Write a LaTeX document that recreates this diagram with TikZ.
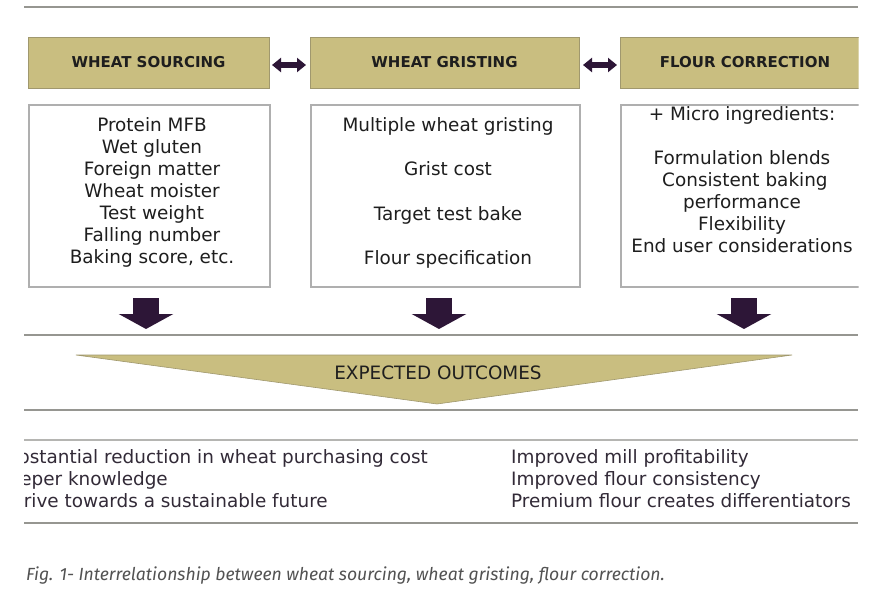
\documentclass[tikz,border=0pt]{standalone}
\usepackage{fontspec}
\setmainfont{DejaVu Sans}
\newfontfamily\capfont{Fira Sans}
\usetikzlibrary{arrows.meta}
\definecolor{khaki}{RGB}{201,190,128}
\definecolor{khakiedge}{RGB}{160,152,110}
\definecolor{boxedge}{RGB}{175,175,175}
\definecolor{rulegray}{RGB}{150,150,145}
\definecolor{arrowpurple}{RGB}{45,22,55}
\definecolor{txt}{RGB}{30,30,30}
\definecolor{outtxt}{RGB}{50,42,55}
\tikzset{
  x=1pt, y=-1pt,
  header/.style={draw=khakiedge, fill=khaki, line width=1pt, minimum height=51pt, inner sep=0pt,
    font=\fontsize{15}{18}\selectfont\bfseries, text=txt},
  content/.style={draw=boxedge, line width=1.5pt, minimum height=182pt, inner sep=0pt, anchor=north west},
  lines/.style={font=\fontsize{18.4}{22}\selectfont, text=txt, align=center, inner sep=0pt},
  outtext/.style={font=\fontsize{18.4}{22}\selectfont, text=outtxt, align=left, inner sep=0pt},
  rule/.style={draw=rulegray, line width=1.5pt},
  dbl/.style={line width=6pt, draw=arrowpurple, {Triangle[length=9pt,width=14pt]}-{Triangle[length=9pt,width=14pt]}},
  down/.style={line width=26pt, draw=arrowpurple, -{Triangle[length=15pt,width=54pt]}}
}
\begin{document}
\begin{tikzpicture}
\useasboundingbox (0,0) rectangle (879,597);
\fill[white] (0,0) rectangle (879,597);
\begin{scope}
\clip (0,0) rectangle (858.5,597);
% top rule
\draw[rule] (24,7) -- (858,7);
% headers
\node[header, minimum width=241pt] (ws) at (148.5,62.5) {WHEAT SOURCING};
\node[header, minimum width=269pt] (wg) at (444.5,62.5) {WHEAT GRISTING};
\node[header, minimum width=250pt] (fc) at (745,62.5) {FLOUR CORRECTION};
% double arrows
\draw[dbl] (272,65) coordinate (a1) -- (306,65) coordinate (a2);
\draw[dbl] (583,65) coordinate (b1) -- (617,65) coordinate (b2);
% content boxes
\node[content, minimum width=241pt] (cs) at (28,104) {};
\node[content, minimum width=269pt] (cg) at (310,104) {};
\node[content, minimum width=250pt] (cf) at (620,104) {};
\end{scope}
% content texts
\node[lines, anchor=north] (ts) at (152,117.5) {Protein MFB\\Wet gluten\\Foreign matter\\Wheat moister\\Test weight\\Falling number\\Baking score, etc.};
\node[lines, anchor=north, font=\fontsize{18.4}{44.3}\selectfont] (tg) at (448,117.5) {Multiple wheat gristing\\Grist cost\\Target test bake\\Flour specification};
\node[lines, anchor=north] (tf) at (742,106) {+ Micro ingredients:\\[22pt]Formulation blends\\\ Consistent baking\\performance\\Flexibility\\End user considerations};
% down arrows
\coordinate (d1s) at (146,298); \coordinate (d1e) at (146,329);
\coordinate (d2s) at (439,298); \coordinate (d2e) at (439,329);
\coordinate (d3s) at (744,298); \coordinate (d3e) at (744,329);
\draw[down] (d1s) -- (d1e);
\draw[down] (d2s) -- (d2e);
\draw[down] (d3s) -- (d3e);
% rules
\draw[rule] (24,335) -- (858,335);
\draw[rule] (24,410) -- (858,410);
\draw[rule, draw=rulegray!70] (24,440) -- (858,440);
\draw[rule] (24,523) -- (858,523);
% expected outcomes triangle
\coordinate (tl) at (76,355);
\coordinate (tr) at (792,355);
\coordinate (tb) at (437,404);
\fill[khaki] (tl) -- (tr) -- (tb) -- cycle;
\draw[khakiedge, line width=0.6pt] (tl) -- (tr) -- (tb) -- cycle;
\node[font=\fontsize{18.4}{22}\selectfont, text=txt, inner sep=0pt] (eo) at (438,373) {EXPECTED OUTCOMES};
% outcomes (left column is cut at the frame edge, as in the reference)
\begin{scope}
\clip (24,430) rectangle (858,520);
\node[outtext, anchor=base east] (ol1) at (428,463) {Substantial reduction in wheat purchasing cost};
\node[outtext, anchor=base west] (ol2) at ([yshift=-22pt]ol1.base west) {Deeper knowledge};
\node[outtext, anchor=base west] (ol3) at (9.5,507) {Drive towards a sustainable future};
\end{scope}
\node[outtext, anchor=base west] (or1) at (511,463) {Improved mill profitability};
\node[outtext, anchor=base west] (or2) at (511,485) {Improved flour consistency};
\node[outtext, anchor=base west] (or3) at (511,507) {Premium flour creates differentiators};
% caption
\node[anchor=base west, inner sep=0pt, font=\capfont\itshape\fontsize{17.6}{20}\selectfont, text=black!68] (cap) at (26,580) {Fig. 1- Interrelationship between wheat sourcing, wheat gristing, flour correction.};
\end{tikzpicture}
\end{document}
